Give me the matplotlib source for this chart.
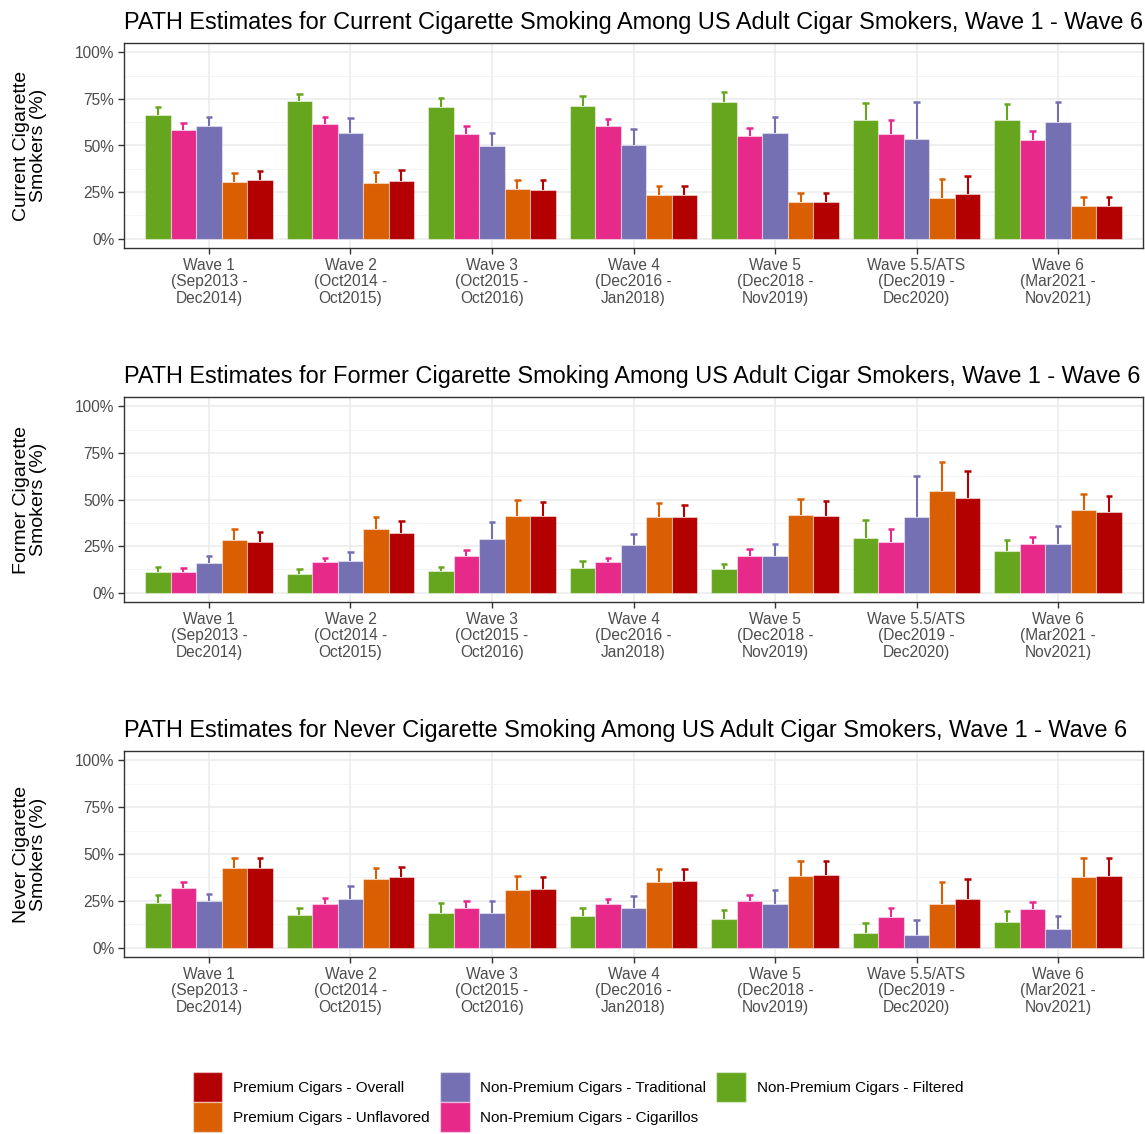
import numpy as np
import matplotlib
matplotlib.use('Agg')
import matplotlib.pyplot as plt
from matplotlib.patches import Patch
from matplotlib.ticker import FuncFormatter, MultipleLocator

plt.rcParams['font.family'] = ['Liberation Sans', 'DejaVu Sans']

# DATA

waves = ['Wave 1\n(Sep2013 -\nDec2014)', 'Wave 2\n(Oct2014 -\nOct2015)',
         'Wave 3\n(Oct2015 -\nOct2016)', 'Wave 4\n(Dec2016 -\nJan2018)',
         'Wave 5\n(Dec2018 -\nNov2019)', 'Wave 5.5/ATS\n(Dec2019 -\nDec2020)',
         'Wave 6\n(Mar2021 -\nNov2021)']

series = ['Non-Premium Cigars - Filtered', 'Non-Premium Cigars - Cigarillos',
          'Non-Premium Cigars - Traditional', 'Premium Cigars - Unflavored',
          'Premium Cigars - Overall']
colors = ['#66A61E', '#E7298A', '#7570B3', '#D95F02', '#B30000']

# current smokers (estimate, upper CI)
cur_filtered = [66.4, 73.7, 70.5, 71.0, 73.5, 63.5, 63.5]
cur_filtered_hi = [70.8, 77.8, 75.4, 76.4, 78.6, 72.8, 72.1]
cur_cigarillos = [58.5, 61.6, 56.4, 60.7, 55.2, 56.0, 52.8]
cur_cigarillos_hi = [61.9, 65.1, 60.5, 64.1, 59.6, 63.7, 57.7]
cur_traditional = [60.3, 56.9, 49.5, 50.5, 56.9, 53.7, 62.5]
cur_traditional_hi = [65.1, 64.6, 56.8, 58.7, 65.1, 73.5, 73.5]
cur_unflavored = [30.2, 29.9, 26.5, 23.5, 19.6, 21.9, 17.3]
cur_unflavored_hi = [35.4, 35.8, 31.5, 28.5, 24.6, 32.0, 22.2]
cur_overall = [31.7, 31.1, 26.2, 23.5, 19.6, 23.8, 17.8]
cur_overall_hi = [36.3, 37.0, 31.3, 28.1, 24.6, 33.5, 22.6]

# former smokers
for_filtered = [11.0, 9.9, 11.5, 13.1, 12.6, 29.4, 22.3]
for_filtered_hi = [14.0, 12.8, 14.0, 17.0, 15.4, 39.0, 28.4]
for_cigarillos = [11.0, 16.3, 19.9, 16.3, 19.9, 27.1, 25.9]
for_cigarillos_hi = [13.3, 18.8, 23.0, 18.6, 23.4, 34.4, 29.8]
for_traditional = [16.1, 17.2, 28.7, 25.5, 19.5, 40.6, 25.9]
for_traditional_hi = [19.5, 22.0, 37.9, 31.7, 26.2, 62.8, 35.6]
for_unflavored = [28.5, 34.4, 41.3, 40.8, 41.8, 54.8, 44.1]
for_unflavored_hi = [34.0, 40.6, 49.5, 48.0, 50.4, 69.9, 53.2]
for_overall = [27.3, 32.1, 41.3, 40.4, 41.3, 50.7, 43.3]
for_overall_hi = [32.6, 38.3, 48.9, 47.2, 49.3, 65.2, 51.8]

# never smokers
nev_filtered = [23.7, 17.6, 18.5, 16.9, 15.5, 8.0, 13.5]
nev_filtered_hi = [28.0, 21.4, 23.9, 21.2, 20.3, 13.2, 19.4]
nev_cigarillos = [31.9, 23.2, 21.2, 23.4, 24.8, 16.2, 20.7]
nev_cigarillos_hi = [34.8, 26.4, 24.8, 26.0, 28.2, 21.2, 24.4]
nev_traditional = [25.0, 26.0, 18.5, 21.0, 23.4, 6.8, 9.8]
nev_traditional_hi = [28.5, 32.8, 25.1, 27.8, 31.0, 14.6, 16.8]
nev_unflavored = [42.4, 36.7, 30.7, 35.1, 38.3, 23.5, 37.6]
nev_unflavored_hi = [47.8, 42.6, 38.0, 42.1, 46.5, 34.9, 47.6]
nev_overall = [42.6, 37.6, 31.2, 35.5, 38.9, 25.8, 38.0]
nev_overall_hi = [47.8, 43.0, 37.8, 42.1, 46.5, 36.7, 47.6]

panels = [
    ('Current',
     [cur_filtered, cur_cigarillos, cur_traditional, cur_unflavored, cur_overall],
     [cur_filtered_hi, cur_cigarillos_hi, cur_traditional_hi, cur_unflavored_hi, cur_overall_hi]),
    ('Former',
     [for_filtered, for_cigarillos, for_traditional, for_unflavored, for_overall],
     [for_filtered_hi, for_cigarillos_hi, for_traditional_hi, for_unflavored_hi, for_overall_hi]),
    ('Never',
     [nev_filtered, nev_cigarillos, nev_traditional, nev_unflavored, nev_overall],
     [nev_filtered_hi, nev_cigarillos_hi, nev_traditional_hi, nev_unflavored_hi, nev_overall_hi]),
]

# FIGURE

W, H = 1145, 1134
fig = plt.figure(figsize=(W / 100, H / 100), dpi=100)

# panel top / bottom in pixels
boxes = [(43, 248), (397, 602), (751, 957)]
left, right = 124, 1143

x = np.arange(len(waves))
bw = 0.18
cap = 0.022

for (name, ests, his), (top, bot) in zip(panels, boxes):
    ax = fig.add_axes([left / W, 1 - bot / H, (right - left) / W, (bot - top) / H])

    for i, (est, hi) in enumerate(zip(ests, his)):
        xs = x + (i - 2) * bw
        # upper error bar only (lower half hidden behind the bar)
        ax.vlines(xs, est, hi, color=colors[i], linewidth=1.5, zorder=2)
        ax.hlines(hi, xs - cap, xs + cap, color=colors[i], linewidth=1.8, zorder=2)
        ax.bar(xs, est, bw, color=colors[i], edgecolor=(1, 1, 1, 0.45),
               linewidth=0.8, zorder=3)

    ax.set_xlim(-0.6, len(waves) - 0.4)
    ax.set_ylim(-5, 105)
    ax.yaxis.set_major_locator(MultipleLocator(25))
    ax.yaxis.set_minor_locator(MultipleLocator(12.5))
    ax.yaxis.set_major_formatter(FuncFormatter(lambda v, p: '%d%%' % v))
    ax.set_xticks(x)
    ax.set_xticklabels(waves, fontsize=11.2, color='#4D4D4D', linespacing=1.12)
    ax.tick_params(axis='y', labelsize=11.2, labelcolor='#4D4D4D', color='#333333',
                   length=4, width=1, pad=3)
    ax.tick_params(axis='y', which='minor', length=0)
    ax.tick_params(axis='x', color='#333333', length=4, width=1, pad=3)

    ax.grid(True, which='major', color='#EBEBEB', linewidth=1.1, zorder=0)
    ax.grid(True, which='minor', axis='y', color='#F2F2F2', linewidth=0.6, zorder=0)
    ax.set_axisbelow(True)
    for s in ax.spines.values():
        s.set_color('#333333')
        s.set_linewidth(1)

    ax.set_title('PATH Estimates for %s Cigarette Smoking Among US Adult Cigar Smokers, Wave 1 - Wave 6' % name,
                 loc='left', fontsize=16.9, pad=10, color='black')
    ax.set_ylabel('%s Cigarette\nSmokers (%%)' % name, fontsize=14, linespacing=1.0)
    ax.yaxis.set_label_coords(-0.0756, 0.5)

# LEGEND

order = [4, 3, 2, 1, 0]
handles = [Patch(facecolor=colors[i], edgecolor=(1, 1, 1, 0.45)) for i in order]
labels = [series[i] for i in order]
fig.legend(handles, labels, ncol=3, loc='center', bbox_to_anchor=(578 / W, 1 - 1102 / H),
           frameon=False, fontsize=11, handlelength=1.96, handleheight=2.64,
           handletextpad=0.7, labelspacing=0.0, columnspacing=0.65, borderpad=0)

plt.savefig('out.png', dpi=100)
